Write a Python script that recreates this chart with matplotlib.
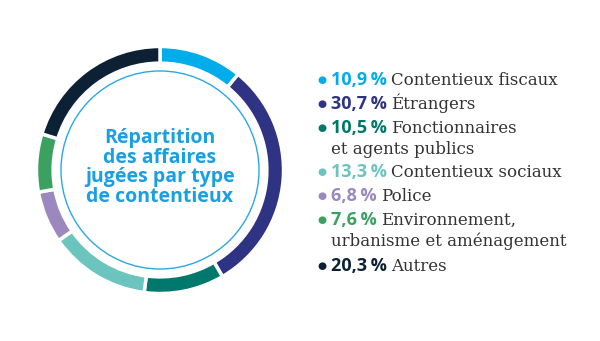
import matplotlib.pyplot as plt
from matplotlib.patches import Circle

# Data
labels = ["Contentieux fiscaux", "Étrangers", "Fonctionnaires\net agents publics",
          "Contentieux sociaux", "Police", "Environnement,\nurbanisme et aménagement",
          "Autres"]
values = [10.9, 30.7, 10.5, 13.3, 6.8, 7.6, 20.3]
pct_labels = ["10,9\u2009%", "30,7\u2009%", "10,5\u2009%", "13,3\u2009%", "6,8\u2009%",
              "7,6\u2009%", "20,3\u2009%"]
colors = ["#00adea", "#2e3384", "#00796c", "#6cc4bf", "#9b88bf", "#3ba160", "#0c2234"]
title = "Répartition\ndes affaires\njugées par type\nde contentieux"

W, H = 600, 341
fig = plt.figure(figsize=(W / 100, H / 100), dpi=100)

# donut
cx, cy, r = 160, 170, 126
ax = fig.add_axes([(cx - r) / W, (H - cy - r) / H, 2 * r / W, 2 * r / H])
ax.pie(values, colors=colors, startangle=90, counterclock=False, radius=1,
       wedgeprops=dict(width=17 / r, edgecolor="white", linewidth=2.5))
ax.add_patch(Circle((0, 0), 101 / r, fill=False, edgecolor="#29a8e6", linewidth=1))
ax.set_xlim(-1.02, 1.02)
ax.set_ylim(-1.02, 1.02)
ax.set_aspect("equal")
ax.axis("off")

ax.text(0, 0.02, title, ha="center", va="center", color="#1aa0e2",
        fontsize=14, fontweight="bold", family="Open Sans", linespacing=0.98)

# legend
x_dot, x_pct = 322, 331
y_pos = [79, 103, 127, 171, 195, 219, 265]
pct_texts = []
for i in range(len(values)):
    yb = 1 - (y_pos[i] + 6) / H
    fig.text(x_dot / W, 1 - (y_pos[i] + 1) / H, "\u25cf", color=colors[i], fontsize=7.5,
             ha="center", va="center")
    t = fig.text(x_pct / W, yb, pct_labels[i], color=colors[i], fontsize=13,
                 fontweight="bold", family="Open Sans", va="baseline")
    pct_texts.append(t)

fig.canvas.draw()
renderer = fig.canvas.get_renderer()
for i, t in enumerate(pct_texts):
    bb = t.get_window_extent(renderer)
    yb = 1 - (y_pos[i] + 6) / H
    lines = labels[i].split("\n")
    fig.text((bb.x1 + 4) / W, yb, lines[0], color="#333333", fontsize=12,
             family="DejaVu Serif", va="baseline")
    if len(lines) > 1:
        fig.text(x_pct / W, yb - 21 / H, lines[1], color="#333333", fontsize=12,
                 family="DejaVu Serif", va="baseline")

fig.savefig("out.png", dpi=100, facecolor="white")
